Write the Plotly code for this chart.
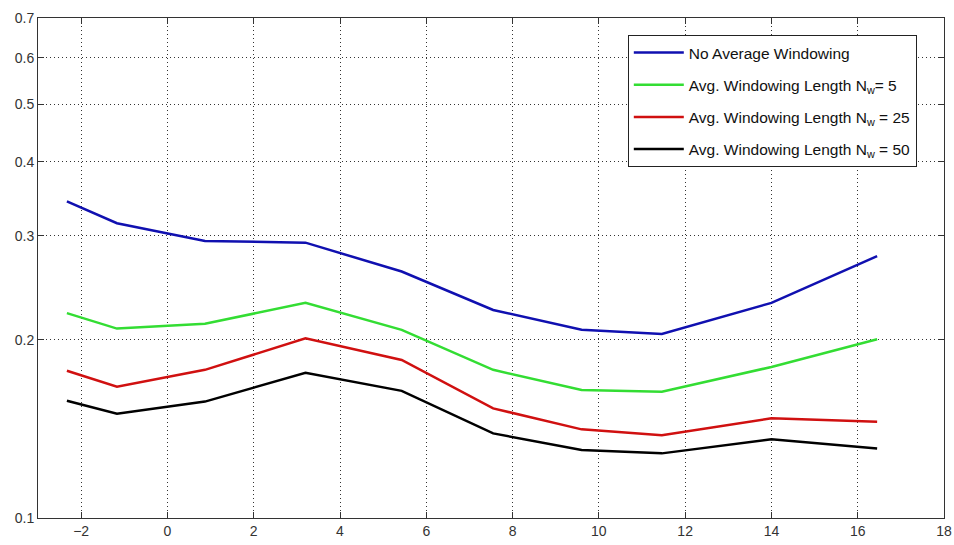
import math
import plotly.graph_objects as go

x_vals = [-2.33, -1.17, 0.87, 3.2, 5.43, 7.55, 9.6, 11.46, 14.0, 16.45]
no_avg = [0.343, 0.315, 0.294, 0.292, 0.261, 0.2247, 0.208, 0.2046, 0.231, 0.277]
nw5 = [0.222, 0.209, 0.213, 0.231, 0.208, 0.178, 0.1646, 0.1635, 0.180, 0.2005]
nw25 = [0.1774, 0.1667, 0.178, 0.2012, 0.185, 0.1532, 0.1412, 0.138, 0.1474, 0.1455]
nw50 = [0.1578, 0.150, 0.1573, 0.176, 0.164, 0.139, 0.1303, 0.1286, 0.1358, 0.1311]

series_names = [
    "No Average Windowing",
    "Avg. Windowing Length N<sub>w</sub>= 5",
    "Avg. Windowing Length N<sub>w</sub> = 25",
    "Avg. Windowing Length N<sub>w</sub> = 50",
]
series_colors = ["#1010b0", "#33dd33", "#d01010", "#000000"]

x_ticks = [-2, 0, 2, 4, 6, 8, 10, 12, 14, 16, 18]
y_ticks = [0.1, 0.2, 0.3, 0.4, 0.5, 0.6, 0.7]

fig = go.Figure()
for i, (name, ys, col) in enumerate(zip(series_names, [no_avg, nw5, nw25, nw50], series_colors)):
    fig.add_trace(go.Scatter(x=x_vals, y=ys, mode="lines", name=name,
                             legendgroup=f"g{i}",
                             line=dict(color=col, width=2.5)))

axis_common = dict(
    showline=True, linecolor="#333333", linewidth=1, mirror="ticks",
    ticks="inside", ticklen=6, tickcolor="#333333",
    showgrid=True, gridcolor="#333333", griddash="1px,3px", gridwidth=1,
    zeroline=False, automargin=False,
    tickfont=dict(family="Liberation Sans, Arial, sans-serif", size=14, color="#333333"),
)

fig.update_layout(
    width=954, height=545,
    margin=dict(l=38, r=10, t=18, b=27),
    paper_bgcolor="white", plot_bgcolor="white",
    xaxis=dict(range=[-3, 18], tickvals=x_ticks, **axis_common),
    yaxis=dict(type="log", range=[-1, math.log10(0.7)], tickvals=y_ticks,
               ticktext=[str(v) for v in y_ticks], **axis_common),
    legend=dict(x=0.651, y=0.966, xanchor="left", yanchor="top",
                bordercolor="#222222", borderwidth=1, bgcolor="white",
                font=dict(family="Liberation Sans, Arial, sans-serif", size=15.5, color="#111111"),
                itemwidth=50, tracegroupgap=9),
    showlegend=True,
)

fig.write_html("out.html", config={"displayModeBar": False},
               post_script="document.body.style.margin='0';")
